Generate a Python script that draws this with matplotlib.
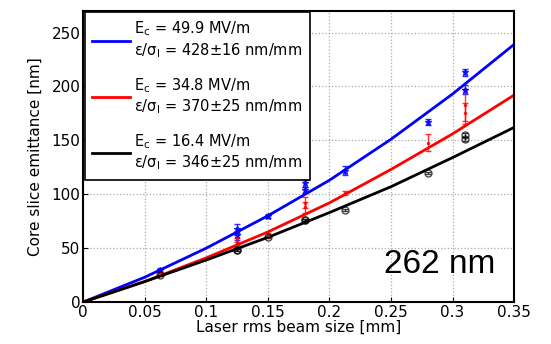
import numpy as np
import matplotlib.pyplot as plt

# fitted curves
xfit = [0, 0.05, 0.1, 0.15, 0.2, 0.25, 0.3, 0.35]
blue_fit = [0, 23, 50, 80, 113, 151, 193, 239]
red_fit = [0, 19, 41, 65, 92, 123, 156, 192]
black_fit = [0, 19, 39, 60, 83, 107, 134, 162]

# measured points
xm = [0.0625, 0.125, 0.125, 0.15, 0.18, 0.18, 0.2125, 0.28, 0.31, 0.31]
blue_y = [30, 68, 62, 80, 110, 104, 122, 167, 213, 197]
blue_err = [2, 4, 4, 2, 3, 3, 4, 3, 3, 4]
red_y = [27, 59, 56, 62, 92, 88, 101, 148, 183, 175]
red_err = [2, 3, 3, 2, 5, 5, 2, 8, 15, 10]
black_y = [25, 48, 48, 60, 76, 76, 85, 120, 155, 151]
black_err = [1, 1, 1, 1, 1, 1, 1, 1, 2, 2]

labels = ["E$_\\mathregular{c}$ = 49.9 MV/m\n\u03b5/\u03c3$_\\mathregular{l}$ = 428\u00b116 nm/mm",
          "E$_\\mathregular{c}$ = 34.8 MV/m\n\u03b5/\u03c3$_\\mathregular{l}$ = 370\u00b125 nm/mm",
          "E$_\\mathregular{c}$ = 16.4 MV/m\n\u03b5/\u03c3$_\\mathregular{l}$ = 346\u00b125 nm/mm"]

fig = plt.figure(figsize=(5.51, 3.44), dpi=100)
ax = fig.add_axes([0.151, 0.122, 0.782, 0.846])

ax.errorbar(xm, blue_y, yerr=blue_err, fmt='*', color='blue', ms=5, capsize=2, lw=1, alpha=0.8)
ax.errorbar(xm, red_y, yerr=red_err, fmt='.', color='red', ms=3, capsize=2, lw=1, alpha=0.8)
ax.errorbar(xm, black_y, yerr=black_err, fmt='o', color='black', mfc='none', ms=5, capsize=2, lw=1, alpha=0.7)

l1, = ax.plot(xfit, blue_fit, color='blue', lw=2)
l2, = ax.plot(xfit, red_fit, color='red', lw=2)
l3, = ax.plot(xfit, black_fit, color='black', lw=2)

leg = ax.legend([l1, l2, l3], labels, loc='upper left', fontsize=10.5, borderaxespad=0.1,
                fancybox=False, framealpha=1, edgecolor='black', handlelength=2.6,
                labelspacing=1.1, handletextpad=0.3, borderpad=0.5)
leg.get_frame().set_linewidth(1.2)

ax.text(0.335, 20, "262 nm", fontsize=24, ha='right', va='bottom', family='Liberation Sans')

ax.set_xlim(0, 0.35)
ax.set_ylim(0, 270)
ax.set_xticks([0, 0.05, 0.1, 0.15, 0.2, 0.25, 0.3, 0.35])
ax.set_xticklabels(['0', '0.05', '0.1', '0.15', '0.2', '0.25', '0.3', '0.35'])
ax.set_yticks([0, 50, 100, 150, 200, 250])
ax.grid(True, linestyle=':', color='#aaaaaa', lw=0.9)
ax.tick_params(direction='in', labelsize=11, pad=2)
for s in ax.spines.values():
    s.set_linewidth(1.5)
ax.set_xlabel('Laser rms beam size [mm]', fontsize=11, labelpad=0)
ax.set_ylabel('Core slice emittance [nm]', fontsize=11, labelpad=6)

fig.savefig('out.png', dpi=100)
